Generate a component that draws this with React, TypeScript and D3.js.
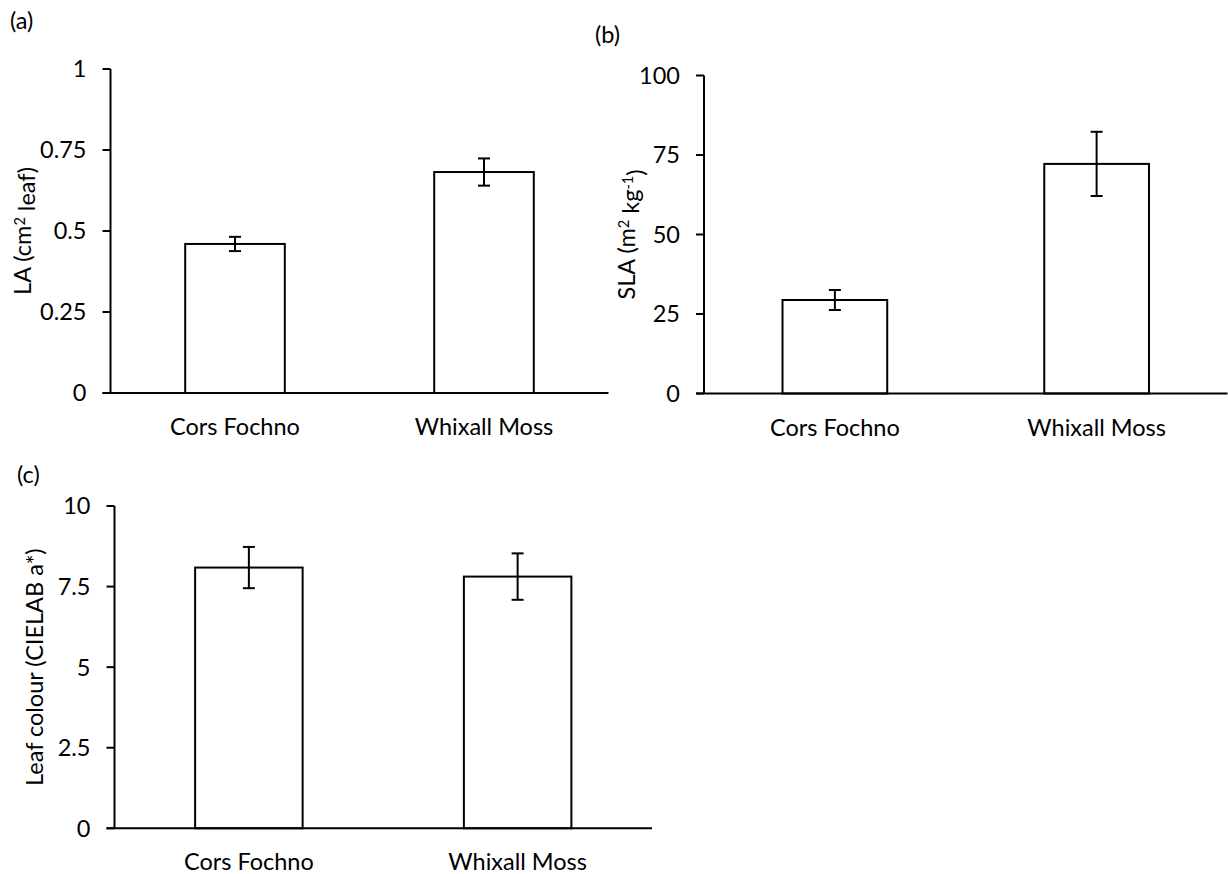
import React from "react";
import * as d3 from "d3";

const categories = ["Cors Fochno", "Whixall Moss"];

const laMeans = [0.46, 0.682];
const laErrors = [0.022, 0.042];
const laTicks = [0, 0.25, 0.5, 0.75, 1];

const slaMeans = [29.4, 72.2];
const slaErrors = [3.15, 10.1];
const slaTicks = [0, 25, 50, 75, 100];

const colourMeans = [8.09, 7.81];
const colourErrors = [0.64, 0.72];
const colourTicks = [0, 2.5, 5, 7.5, 10];

const FONT = "Lato, 'Open Sans', sans-serif";
const FS = 23.5;

type PanelProps = {
  letter: string;
  letterPos: [number, number];
  x0: number;
  x1: number;
  yTop: number;
  yBot: number;
  means: number[];
  errors: number[];
  ticks: number[];
  titleX: number;
  title: React.ReactNode;
};

function Panel(p: PanelProps) {
  const x = d3
    .scaleBand<string>()
    .domain(categories)
    .range([p.x0, p.x1])
    .paddingInner(0.6)
    .paddingOuter(0.3);
  const y = d3
    .scaleLinear()
    .domain([p.ticks[0], p.ticks[p.ticks.length - 1]])
    .range([p.yBot, p.yTop]);
  const fmt = d3.format("");
  const bw = x.bandwidth();
  const cap = 6;
  const tick = 8;
  return (
    <g>
      <text
        x={p.letterPos[0]}
        y={p.letterPos[1]}
        fontFamily={FONT}
        fontSize={FS}
        fill="#000"
      >
        {p.letter}
      </text>
      {/* bars */}
      {categories.map((c, i) => {
        const cx = (x(c) as number) + bw / 2;
        return (
          <g key={c}>
            <rect
              x={x(c) as number}
              y={y(p.means[i])}
              width={bw}
              height={p.yBot - y(p.means[i])}
              fill="#fff"
              stroke="#000"
              strokeWidth={2}
            />
            <line
              x1={cx}
              x2={cx}
              y1={y(p.means[i] + p.errors[i])}
              y2={y(p.means[i] - p.errors[i])}
              stroke="#000"
              strokeWidth={2}
            />
            <line
              x1={cx - cap}
              x2={cx + cap}
              y1={y(p.means[i] + p.errors[i])}
              y2={y(p.means[i] + p.errors[i])}
              stroke="#000"
              strokeWidth={2}
            />
            <line
              x1={cx - cap}
              x2={cx + cap}
              y1={y(p.means[i] - p.errors[i])}
              y2={y(p.means[i] - p.errors[i])}
              stroke="#000"
              strokeWidth={2}
            />
            <text
              x={cx}
              y={p.yBot + 42}
              textAnchor="middle"
              fontFamily={FONT}
              fontSize={FS}
              fill="#000"
            >
              {c}
            </text>
          </g>
        );
      })}
      {/* y axis */}
      <line
        x1={p.x0}
        x2={p.x0}
        y1={p.yTop}
        y2={p.yBot}
        stroke="#000"
        strokeWidth={2}
      />
      {p.ticks.map((t) => (
        <g key={t}>
          <line
            x1={p.x0 - tick}
            x2={p.x0}
            y1={y(t)}
            y2={y(t)}
            stroke="#000"
            strokeWidth={2}
          />
          <text
            x={p.x0 - tick - 16}
            y={y(t)}
            dy="0.36em"
            textAnchor="end"
            fontFamily={FONT}
            fontSize={FS}
            fill="#000"
          >
            {fmt(t)}
          </text>
        </g>
      ))}
      {/* x axis */}
      <line
        x1={p.x0 - tick}
        x2={p.x1}
        y1={p.yBot}
        y2={p.yBot}
        stroke="#000"
        strokeWidth={2}
      />
      <text
        transform={`translate(${p.titleX},${(p.yTop + p.yBot) / 2}) rotate(-90)`}
        textAnchor="middle"
        dy="0.36em"
        fontFamily={FONT}
        fontSize={FS}
        fill="#000"
      >
        {p.title}
      </text>
    </g>
  );
}

export default function App() {
  return (
    <svg
      width={1228}
      height={874}
      style={{ position: "absolute", left: 0, top: 0, display: "block", background: "#fff" }}
    >
      <rect x={0} y={0} width={1228} height={874} fill="#fff" />
      <Panel
        letter="(a)"
        letterPos={[10, 29]}
        x0={110.5}
        x1={608.5}
        yTop={69}
        yBot={393}
        means={laMeans}
        errors={laErrors}
        ticks={laTicks}
        titleX={23}
        title={
          <>
            LA (cm
            <tspan dy="-0.45em" fontSize={FS * 0.62}>2</tspan>
            <tspan dy="0.45em"> leaf)</tspan>
          </>
        }
      />
      <Panel
        letter="(b)"
        letterPos={[595, 43]}
        x0={704}
        x1={1227.5}
        yTop={75.5}
        yBot={393.5}
        means={slaMeans}
        errors={slaErrors}
        ticks={slaTicks}
        titleX={627}
        title={
          <>
            SLA (m
            <tspan dy="-0.45em" fontSize={FS * 0.62}>2</tspan>
            <tspan dy="0.45em"> kg</tspan>
            <tspan dy="-0.45em" fontSize={FS * 0.62}>-1</tspan>
            <tspan dy="0.45em">)</tspan>
          </>
        }
      />
      <Panel
        letter="(c)"
        letterPos={[17, 483]}
        x0={114.5}
        x1={652}
        yTop={506}
        yBot={828.3}
        means={colourMeans}
        errors={colourErrors}
        ticks={colourTicks}
        titleX={35}
        title={<>Leaf colour (CIELAB a*)</>}
      />
    </svg>
  );
}
